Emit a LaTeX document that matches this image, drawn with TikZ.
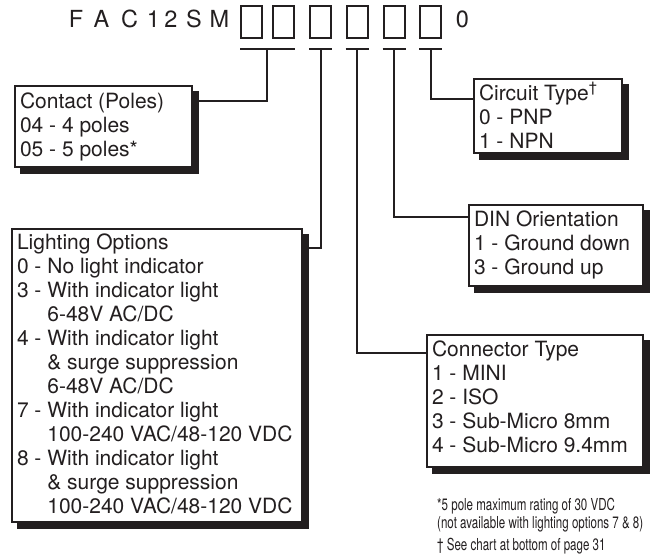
\documentclass[tikz,border=0pt]{standalone}
\usepackage{fontspec}
\setmainfont{TeX Gyre Heros}
\newfontfamily\narrowfont{TeX Gyre Heros}[FakeStretch=0.7]
\usetikzlibrary{calc}
\definecolor{ink}{HTML}{231F20}
\newcommand\opttext[4]{\parbox[t][#2][t]{#1}{\raggedright\vspace*{#3}\strut #4}}
\newcommand\ind{\hphantom{3 - }}
\newcommand\shadowrule[2]{\textcolor{ink}{\rule{#1}{#2}}}
\begin{document}
\begin{tikzpicture}[x=1pt,y=-1pt,
  optbox/.style={draw=ink, line width=2pt, fill=white, inner xsep=5pt, inner ysep=0pt,
    anchor=north west, text=ink, font=\fontsize{21}{24}\selectfont},
  shadownode/.style={anchor=north west, inner sep=0pt, outer sep=0pt, fill=ink},
  slot/.style={draw=ink, line width=2pt, minimum width=21pt, minimum height=32pt, inner sep=0pt},
  wire/.style={draw=ink, line width=2pt},
  titlechar/.style={font=\fontsize{23.5}{24}\selectfont, text=ink, anchor=base, inner sep=0pt},
  notetext/.style={font=\narrowfont\fontsize{16.5}{18}\selectfont, text=ink, anchor=base west, inner sep=0pt}]
\useasboundingbox (0,0) rectangle (653,558);

% title
\foreach \c/\x [count=\i] in {F/76,A/101.5,C/129.5,1/153.5,2/171,S/194,M/219.5}
  \node[titlechar] (t\i) at (\x,27) {\c};
\node[titlechar] (zero) at (462.5,27) {0};

% slots
\foreach \n/\x in {1/251.5,2/283,3/320.5,4/357,5/394,6/430.5}
  \node[slot] (s\n) at (\x,22) {};

% bars
\draw[wire] ($(s1.south west)+(0,10)$) -- ($(s2.south east)+(0,10)$);
\foreach \n in {3,4,5,6}
  \draw[wire] ($(s\n.south west)+(0,10)$) -- ($(s\n.south east)+(0,10)$);
\coordinate (m1) at ($(s1.south west)!0.5!(s2.south east)+(0,10)$);
\foreach \n in {3,4,5,6}
  \coordinate (m\n) at ($(s\n.south)+(0,10)$);

% connector end points on the boxes
\coordinate (contactin) at (191,101);
\coordinate (lightin) at (301,248);
\coordinate (connin) at (426,353);
\coordinate (dinin) at (468,217);
\coordinate (circin) at (473,99);

% connectors
\draw[wire] (m1) |- (contactin);
\draw[wire] (m3) |- (lightin);
\draw[wire] (m4) |- (connin);
\draw[wire] (m5) |- (dinin);
\draw[wire] (m6) |- (circin);

% drop shadows
\node[shadownode] (contactsh) at (20,91) {\shadowrule{179pt}{83pt}};
\node[shadownode] (circsh) at (479,84) {\shadowrule{150pt}{76pt}};
\node[shadownode] (dinsh) at (474,210) {\shadowrule{176pt}{83pt}};
\node[shadownode] (connsh) at (432,340) {\shadowrule{218pt}{134pt}};
\node[shadownode] (lightsh) at (17,234) {\shadowrule{292pt}{295pt}};

% option boxes
\node[optbox] (contact) at (14,85) {\opttext{167pt}{81pt}{5.2pt}{Contact (Poles)\\04 - 4 poles\\05 - 5 poles*}};
\node[optbox] (circ) at (473,78) {\opttext{138pt}{74pt}{3.2pt}{Circuit Type\textsuperscript{†}\\0 - PNP\\1 - NPN}};
\node[optbox] (din) at (468,204) {\opttext{164pt}{81pt}{4.2pt}{DIN Orientation\\1 - Ground down\\3 - Ground up}};
\node[optbox] (conn) at (426,334) {\opttext{206pt}{132pt}{4.2pt}{Connector Type\\1 - MINI\\2 - ISO\\3 - Sub-Micro 8mm\\4 - Sub-Micro 9.4mm}};
\node[optbox] (light) at (11,228) {\opttext{280pt}{293pt}{3.2pt}{Lighting Options\\0 - No light indicator\\3 - With indicator light\\\ind 6-48V AC/DC\\4 - With indicator light\\\ind \& surge suppression\\\ind 6-48V AC/DC\\7 - With indicator light\\\ind 100-240 VAC/48-120 VDC\\8 - With indicator light\\\ind \& surge suppression\\\ind 100-240 VAC/48-120 VDC}};

% notes
\node[notetext] (n1) at (437,510) {*5 pole maximum rating of 30 VDC};
\node[notetext] (n2) at (437,528) {(not available with lighting options 7 \& 8)};
\node[notetext] (n3) at (437,550) {† See chart at bottom of page 31};
\end{tikzpicture}
\end{document}
